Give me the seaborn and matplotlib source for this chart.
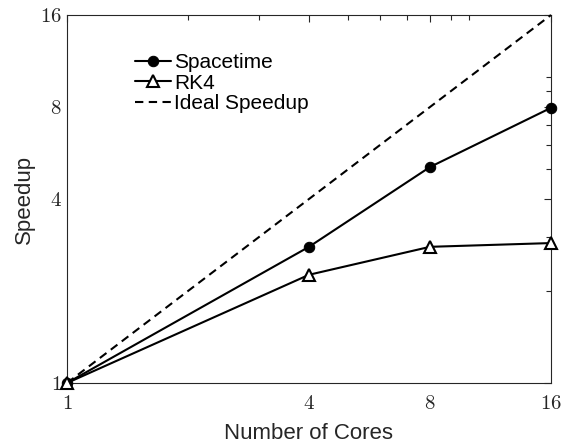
import matplotlib
matplotlib.use("Agg")
import matplotlib.pyplot as plt
import seaborn as sns
import pandas as pd

cores = [1, 4, 8, 16]
spacetime = [1.0, 2.79, 5.09, 7.95]
rk4 = [1.0, 2.26, 2.79, 2.87]
ideal_cores = [1, 16]
ideal = [1, 16]

x_ticks = [1, 4, 8, 16]
y_ticks = [1, 4, 8, 16]
minor_ticks = [2, 3, 5, 6, 7, 9, 10]

sns.set_style("white")
plt.rcParams["mathtext.fontset"] = "cm"
plt.rcParams["font.family"] = ["Liberation Sans", "DejaVu Sans"]

fig = plt.figure(figsize=(5.63, 4.46), dpi=100)
ax = fig.add_axes([67/563, 1 - 383/446, 484/563, 368/446])

dark = "#262626"
df_st = pd.DataFrame({"cores": cores, "speedup": spacetime})
df_rk = pd.DataFrame({"cores": cores, "speedup": rk4})
df_id = pd.DataFrame({"cores": ideal_cores, "speedup": ideal})

sns.lineplot(data=df_st, x="cores", y="speedup", ax=ax, color="black", lw=1.5,
             marker="o", markersize=7.5, markeredgecolor="black", markerfacecolor="black",
             label="Spacetime", clip_on=False, zorder=4)
sns.lineplot(data=df_rk, x="cores", y="speedup", ax=ax, color="black", lw=1.5,
             marker="^", markersize=8.5, markeredgecolor="black", markerfacecolor="white",
             markeredgewidth=1.5, label="RK4", clip_on=False, zorder=5)
sns.lineplot(data=df_id, x="cores", y="speedup", ax=ax, color="black", lw=1.5,
             dashes=(4, 2.6), label="Ideal Speedup", clip_on=False, zorder=3)
ax.lines[-1].set_dashes((4, 2.6))

ax.set_xscale("log", base=2)
ax.set_yscale("log", base=2)
ax.set_xlim(1, 16)
ax.set_ylim(1, 16)
ax.set_xticks(x_ticks, labels=[f"${t}$" for t in x_ticks])
ax.set_yticks(y_ticks, labels=[f"${t}$" for t in y_ticks])
ax.set_xticks(minor_ticks, minor=True)
ax.set_yticks(minor_ticks, minor=True)
ax.xaxis.set_minor_formatter(matplotlib.ticker.NullFormatter())
ax.yaxis.set_minor_formatter(matplotlib.ticker.NullFormatter())

ax.tick_params(which="both", direction="in", top=True, right=True, color=dark,
               width=0.8, labelcolor=dark, labelsize=15)
ax.tick_params(which="major", length=5)
ax.tick_params(which="minor", length=3.5)
ax.tick_params(axis="x", pad=8)
ax.tick_params(axis="y", pad=4)
for s in ax.spines.values():
    s.set_visible(True)
    s.set_color(dark)
    s.set_linewidth(0.8)

ax.set_xlabel("Number of Cores", fontsize=16, color=dark, labelpad=7)
ax.set_ylabel("Speedup", fontsize=16, color=dark, labelpad=3)

leg = ax.legend(loc="upper left", bbox_to_anchor=(0.1415, 0.896), frameon=False,
                fontsize=15, handlelength=1.7, handletextpad=0.15,
                labelspacing=0.07, borderpad=0, borderaxespad=0)
for t in leg.get_texts():
    t.set_color("black")

fig.savefig("out.png", dpi=100)
